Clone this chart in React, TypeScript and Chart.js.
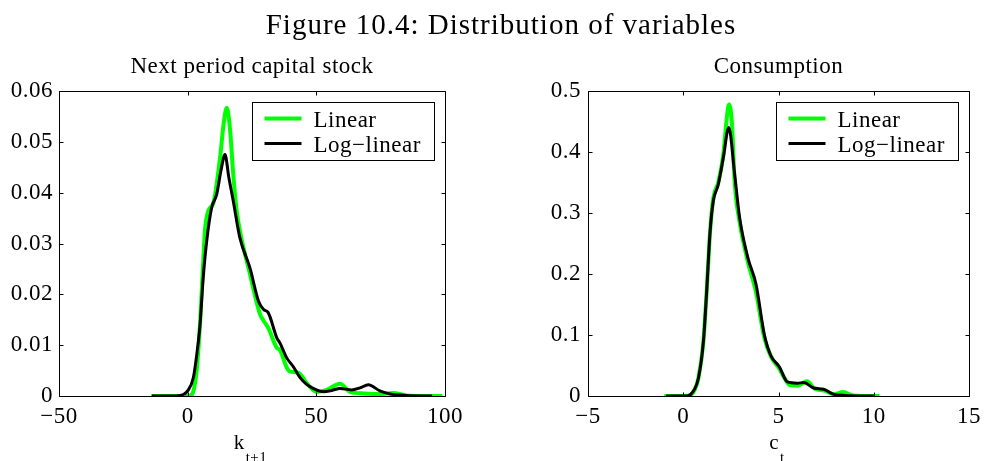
import React, { useEffect, useRef } from 'react';
import { Chart, registerables } from 'chart.js';

Chart.register(...registerables);

// ---------- shared ----------
const FIG_TITLE = 'Figure 10.4: Distribution of variables';
const SERIES_NAMES = ['Linear', 'Log\u2212linear'];
const SERIES_COLORS = ['#00ff00', '#000000'];
const SERIES_WIDTHS = [4, 3];

// ---------- panel 1: next period capital stock ----------
const kTitle = 'Next period capital stock';
const kXLabel = 'k';
const kXLabelSub = 't+1';
const kXTicks = [-50, 0, 50, 100];
const kXTickLabels = ['\u221250', '0', '50', '100'];
const kYTicks = [0, 0.01, 0.02, 0.03, 0.04, 0.05, 0.06];
const kYTickLabels = ['0', '0.01', '0.02', '0.03', '0.04', '0.05', '0.06'];

const kLinearX = [-14, -5, 0, 1, 2, 3.5, 4.8, 6, 6.7, 8, 10, 12.6, 13.8, 15.2, 16.5, 17.7, 19, 20.3, 24.2, 28.1, 29.5, 31.3, 34.6, 35.9, 38.5, 39.8, 43, 46.3, 50.1, 54, 59.2, 63.1, 68.3, 74.7, 79.9, 85, 90, 99];
const kLinearY = [0, 0, 0, 0.0001, 0.0006, 0.005, 0.0142, 0.026, 0.0325, 0.0364, 0.038, 0.0469, 0.0528, 0.0567, 0.0522, 0.0437, 0.0366, 0.0325, 0.024, 0.0161, 0.0148, 0.0134, 0.0095, 0.009, 0.0056, 0.0048, 0.0046, 0.0025, 0.0008, 0.0012, 0.0024, 0.0008, 0.0005, 0.0004, 0.0006, 0.0001, 0, 0];

const kLogX = [-14, -5, -1.7, 0, 2.2, 3.5, 4.8, 6, 7.4, 9.3, 11.3, 13, 14.5, 16, 17.7, 20.3, 24.2, 27.5, 29.5, 31.3, 34.6, 35.9, 38.5, 41, 43.7, 46, 48.8, 52.7, 56, 59.2, 63.7, 67, 70.2, 74.7, 78.6, 85, 95];
const kLogY = [0, 0, 0.0003, 0.001, 0.0036, 0.008, 0.014, 0.023, 0.0305, 0.037, 0.0397, 0.0445, 0.0475, 0.043, 0.0384, 0.0311, 0.0252, 0.0187, 0.017, 0.0164, 0.0115, 0.0104, 0.0075, 0.0058, 0.0036, 0.0024, 0.0015, 0.00085, 0.0011, 0.0015, 0.0012, 0.0016, 0.0022, 0.001, 0.0004, 0.0001, 0];

// ---------- panel 2: consumption ----------
const cTitle = 'Consumption';
const cXLabel = 'c';
const cXLabelSub = 't';
const cXTicks = [-5, 0, 5, 10, 15];
const cXTickLabels = ['\u22125', '0', '5', '10', '15'];
const cYTicks = [0, 0.1, 0.2, 0.3, 0.4, 0.5];
const cYTickLabels = ['0', '0.1', '0.2', '0.3', '0.4', '0.5'];

const cLinearX = [-1, 0, 0.4, 0.6, 0.8, 1.06, 1.23, 1.41, 1.58, 1.84, 2.1, 2.3, 2.4, 2.55, 2.7, 2.96, 3.39, 3.82, 4.26, 4.6, 5.04, 5.3, 5.6, 6, 6.5, 6.9, 7.4, 7.9, 8.4, 8.9, 10.3];
const cLinearY = [0, 0, 0.002, 0.01, 0.03, 0.09, 0.172, 0.27, 0.325, 0.35, 0.395, 0.46, 0.478, 0.45, 0.35, 0.285, 0.22, 0.17, 0.095, 0.065, 0.045, 0.03, 0.018, 0.017, 0.024, 0.012, 0.009, 0.003, 0.0065, 0.001, 0];

const cLogX = [-0.9, 0.2, 0.46, 0.8, 1.06, 1.23, 1.41, 1.58, 1.84, 2.1, 2.39, 2.7, 2.96, 3.39, 3.82, 4.26, 4.6, 5.04, 5.47, 5.98, 6.33, 6.85, 7.37, 7.88, 8.5, 10];
const cLogY = [0, 0, 0.005, 0.03, 0.09, 0.172, 0.27, 0.32, 0.347, 0.39, 0.44, 0.363, 0.292, 0.227, 0.183, 0.1, 0.066, 0.048, 0.023, 0.021, 0.022, 0.013, 0.011, 0.003, 0.001, 0];

const FONT = '"Liberation Serif", "Times New Roman", serif';
const SPACING = '0.5px';
const TXT = 23;

type PanelCfg = {
  title: string;
  xLabel: string;
  xSub: string;
  xTicks: number[];
  xTickLabels: string[];
  yTicks: number[];
  yTickLabels: string[];
  series: { xs: number[]; ys: number[] }[];
  padLeft: number;
  padRight: number;
  yAxisWidth: number;
  yLabelPad: number;
};

function makeDecor(cfg: PanelCfg) {
  return {
    id: 'matlabDecor',
    beforeLayout(chart: any) {
      chart.ctx.letterSpacing = SPACING;
    },
    beforeDraw(chart: any) {
      const ctx = chart.ctx;
      ctx.save();
      ctx.fillStyle = '#ffffff';
      ctx.fillRect(0, 0, chart.width, chart.height);
      ctx.restore();
      ctx.letterSpacing = SPACING;
    },
    afterDraw(chart: any) {
      const ctx = chart.ctx;
      const a = chart.chartArea;
      const xs = chart.scales.x;
      const ys = chart.scales.y;
      ctx.save();
      ctx.letterSpacing = SPACING;
      const L = Math.round(a.left) + 0.5;
      const R = Math.round(a.right) + 0.5;
      const T = Math.round(a.top) + 0.5;
      const B = Math.round(a.bottom) + 0.5;
      ctx.strokeStyle = '#000';
      ctx.lineWidth = 1;
      ctx.beginPath();
      ctx.rect(L, T, R - L, B - T);
      ctx.stroke();
      const tl = 4;
      ctx.beginPath();
      cfg.xTicks.forEach((v) => {
        const p = Math.round(xs.getPixelForValue(v)) + 0.5;
        ctx.moveTo(p, B);
        ctx.lineTo(p, B - tl);
        ctx.moveTo(p, T);
        ctx.lineTo(p, T + tl);
      });
      cfg.yTicks.forEach((v) => {
        const p = Math.round(ys.getPixelForValue(v)) + 0.5;
        ctx.moveTo(L, p);
        ctx.lineTo(L + tl, p);
        ctx.moveTo(R, p);
        ctx.lineTo(R - tl, p);
      });
      ctx.stroke();

      // subplot title
      const cx = (a.left + a.right) / 2;
      ctx.fillStyle = '#000';
      ctx.font = `${TXT}px ${FONT}`;
      ctx.textAlign = 'center';
      ctx.textBaseline = 'alphabetic';
      ctx.fillText(cfg.title, cx, 73);

      // x label with subscript
      ctx.textAlign = 'left';
      ctx.font = `21px ${FONT}`;
      const wm = ctx.measureText(cfg.xLabel).width;
      ctx.font = `15px ${FONT}`;
      const wsub = ctx.measureText(cfg.xSub).width;
      const x0 = cx - (wm + wsub) / 2 - 2;
      ctx.font = `21px ${FONT}`;
      ctx.fillText(cfg.xLabel, x0, 449);
      ctx.font = `15px ${FONT}`;
      ctx.fillText(cfg.xSub, x0 + wm + 1, 462);

      // legend
      const bw = 182;
      const bh = 58;
      const bl = Math.round(a.right) - 11 - bw + 0.5;
      const bt = Math.round(a.top) + 11 + 0.5;
      ctx.fillStyle = '#fff';
      ctx.fillRect(bl, bt, bw, bh);
      ctx.strokeStyle = '#000';
      ctx.lineWidth = 1;
      ctx.strokeRect(bl, bt, bw, bh);
      SERIES_NAMES.forEach((name, i) => {
        const ly = bt + 16 + i * 25;
        ctx.strokeStyle = SERIES_COLORS[i];
        ctx.lineWidth = SERIES_WIDTHS[i];
        ctx.beginPath();
        ctx.moveTo(bl + 12, ly);
        ctx.lineTo(bl + 49, ly);
        ctx.stroke();
        ctx.fillStyle = '#000';
        ctx.font = `${TXT}px ${FONT}`;
        ctx.textAlign = 'left';
        ctx.fillText(name, bl + 61, bt + 24 + i * 25);
      });
      ctx.restore();
    },
  };
}

function buildConfig(cfg: PanelCfg): any {
  return {
    type: 'line',
    data: {
      datasets: cfg.series.map((s, i) => ({
        label: SERIES_NAMES[i],
        data: s.xs.map((x, j) => ({ x, y: s.ys[j] })),
        borderColor: SERIES_COLORS[i],
        backgroundColor: SERIES_COLORS[i],
        borderWidth: SERIES_WIDTHS[i],
        pointRadius: 0,
        cubicInterpolationMode: 'monotone',
        fill: false,
        order: cfg.series.length - i,
      })),
    },
    options: {
      responsive: false,
      animation: false,
      devicePixelRatio: 1,
      layout: { padding: { left: cfg.padLeft, right: cfg.padRight, top: 91, bottom: 0 } },
      plugins: {
        legend: { display: false },
        title: { display: false },
        tooltip: { enabled: false },
      },
      scales: {
        x: {
          type: 'linear',
          min: cfg.xTicks[0],
          max: cfg.xTicks[cfg.xTicks.length - 1],
          grid: { display: false, drawTicks: false },
          border: { display: false },
          afterBuildTicks: (scale: any) => {
            scale.ticks = cfg.xTicks.map((v) => ({ value: v }));
          },
          afterFit: (scale: any) => {
            scale.height = 65;
          },
          ticks: {
            autoSkip: false,
            maxRotation: 0,
            padding: 7,
            color: '#000',
            font: { family: FONT, size: TXT },
            callback: (_v: any, i: number) => cfg.xTickLabels[i],
          },
        },
        y: {
          type: 'linear',
          min: cfg.yTicks[0],
          max: cfg.yTicks[cfg.yTicks.length - 1],
          grid: { display: false, drawTicks: false },
          border: { display: false },
          afterBuildTicks: (scale: any) => {
            scale.ticks = cfg.yTicks.map((v) => ({ value: v }));
          },
          afterFit: (scale: any) => {
            scale.width = cfg.yAxisWidth;
          },
          ticks: {
            autoSkip: false,
            padding: cfg.yLabelPad,
            color: '#000',
            font: { family: FONT, size: TXT },
            callback: (_v: any, i: number) => cfg.yTickLabels[i],
          },
        },
      },
    },
    plugins: [makeDecor(cfg)],
  };
}

const panel1: PanelCfg = {
  title: kTitle,
  xLabel: kXLabel,
  xSub: kXLabelSub,
  xTicks: kXTicks,
  xTickLabels: kXTickLabels,
  yTicks: kYTicks,
  yTickLabels: kYTickLabels,
  series: [
    { xs: kLinearX, ys: kLinearY },
    { xs: kLogX, ys: kLogY },
  ],
  padLeft: 0,
  padRight: 49,
  yAxisWidth: 59,
  yLabelPad: 6,
};

const panel2: PanelCfg = {
  title: cTitle,
  xLabel: cXLabel,
  xSub: cXLabelSub,
  xTicks: cXTicks,
  xTickLabels: cXTickLabels,
  yTicks: cYTicks,
  yTickLabels: cYTickLabels,
  series: [
    { xs: cLinearX, ys: cLinearY },
    { xs: cLogX, ys: cLogY },
  ],
  padLeft: 0,
  padRight: 14,
  yAxisWidth: 94,
  yLabelPad: 7,
};

export default function App() {
  const ref1 = useRef<HTMLCanvasElement>(null);
  const ref2 = useRef<HTMLCanvasElement>(null);

  useEffect(() => {
    document.body.style.margin = '0';
    document.body.style.background = '#fff';
    const c1 = new Chart(ref1.current as HTMLCanvasElement, buildConfig(panel1));
    const c2 = new Chart(ref2.current as HTMLCanvasElement, buildConfig(panel2));
    return () => {
      c1.destroy();
      c2.destroy();
    };
  }, []);

  return (
    <div style={{ position: 'relative', width: 988, height: 461, background: '#fff', overflow: 'hidden' }}>
      <canvas ref={ref1} width={494} height={461} style={{ position: 'absolute', left: 0, top: 0, width: 494, height: 461 }} />
      <canvas ref={ref2} width={494} height={461} style={{ position: 'absolute', left: 494, top: 0, width: 494, height: 461 }} />
      <div
        style={{
          position: 'absolute',
          left: 7,
          top: 10,
          width: 988,
          textAlign: 'center',
          fontFamily: FONT,
          fontSize: 29,
          lineHeight: '29px',
          letterSpacing: '1px',
          color: '#000',
          whiteSpace: 'nowrap',
        }}
      >
        {FIG_TITLE}
      </div>
    </div>
  );
}
